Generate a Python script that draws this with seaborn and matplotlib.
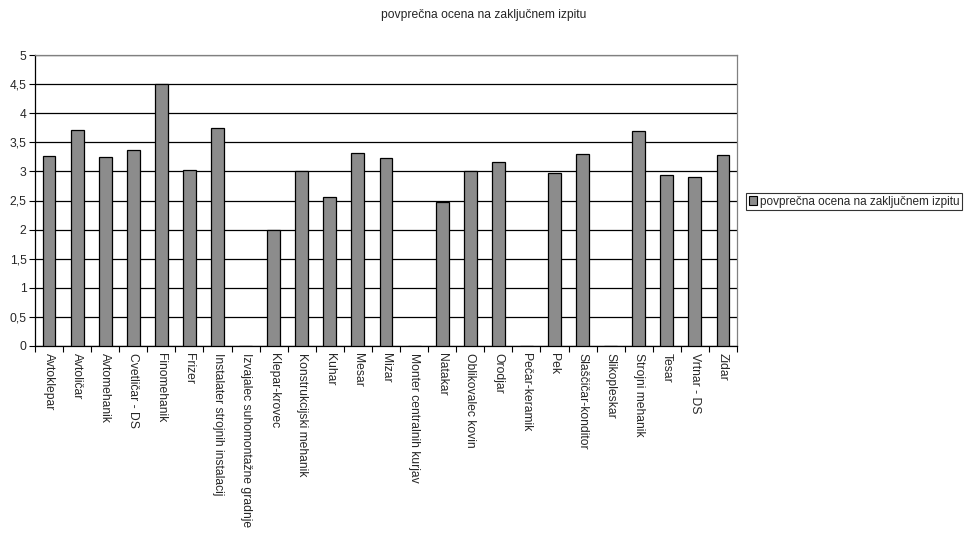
import matplotlib
matplotlib.use("Agg")
import matplotlib.pyplot as plt
import seaborn as sns
import pandas as pd
import numpy as np

poklici = [
    "Avtoklepar", "Avtoličar", "Avtomehanik", "Cvetličar - DS", "Finomehanik",
    "Frizer", "Instalater strojnih instalacij", "Izvajalec suhomontažne gradnje",
    "Klepar-krovec", "Konstrukcijski mehanik", "Kuhar", "Mesar", "Mizar",
    "Monter centralnih kurjav", "Natakar", "Oblikovalec kovin", "Orodjar",
    "Pečar-keramik", "Pek", "Slaščičar-konditor", "Slikopleskar",
    "Strojni mehanik", "Tesar", "Vrtnar - DS", "Zidar",
]
ocene = [
    3.26, 3.71, 3.25, 3.37, 4.5,
    3.02, 3.74, 0.0,
    2.0, 3.0, 2.56, 3.31, 3.23,
    0.0, 2.48, 3.0, 3.16,
    0.0, 2.97, 3.30, 0.0,
    3.70, 2.93, 2.90, 3.28,
]
serija = "povprečna ocena na zaključnem izpitu"
y_ticks = [0, 0.5, 1, 1.5, 2, 2.5, 3, 3.5, 4, 4.5, 5]
y_tick_labels = ["0", "0,5", "1", "1,5", "2", "2,5", "3", "3,5", "4", "4,5", "5"]

FS = 8.7

sns.set_style("white")
plt.rcParams["font.family"] = ["Liberation Sans", "DejaVu Sans"]

df = pd.DataFrame({"poklic": poklici, "ocena": ocene})

fig = plt.figure(figsize=(9.67, 5.33), dpi=100)
ax = fig.add_axes([35 / 967, 1 - 346 / 533, (737 - 35) / 967, (346 - 55) / 533])

sns.barplot(data=df, x="poklic", y="ocena", color="#8c8c8c", saturation=1,
            width=0.46, edgecolor="black", linewidth=0.9, ax=ax, zorder=3)

ax.set_ylim(0, 5)
ax.set_xlim(-0.5, len(poklici) - 0.5)
ax.set_yticks(y_ticks)
ax.set_yticklabels(y_tick_labels, fontsize=FS)
ax.yaxis.grid(True, color="black", linewidth=0.9, zorder=0)
ax.set_axisbelow(True)

ax.set_xticks(range(len(poklici)))
ax.set_xticklabels(poklici, rotation=270, fontsize=FS, va="top", ha="center")
ax.tick_params(axis="x", length=0, pad=5)
ax.set_xticks(np.arange(len(poklici) + 1) - 0.5, minor=True)
ax.tick_params(axis="x", which="minor", length=4, width=0.8, color="black", direction="out", bottom=True)
ax.tick_params(axis="y", length=4, width=0.8, color="black", direction="out", left=True, pad=2)
ax.set_xlabel("")
ax.set_ylabel("")

for side in ["left", "bottom"]:
    ax.spines[side].set_color("black")
    ax.spines[side].set_linewidth(0.9)
for side in ["top", "right"]:
    ax.spines[side].set_visible(True)
    ax.spines[side].set_color("#808080")
    ax.spines[side].set_linewidth(0.9)

fig.text(484 / 967, 1 - 15 / 533, serija, ha="center", va="center", fontsize=FS)

handle = plt.Rectangle((0, 0), 1, 1, facecolor="#8c8c8c", edgecolor="black", linewidth=0.8)
leg = fig.legend([handle], [serija], loc="center left",
                 bbox_to_anchor=(746 / 967, 1 - 201.5 / 533),
                 fontsize=8.5, frameon=True, fancybox=False, shadow=False,
                 handlelength=0.7, handleheight=0.7, handletextpad=0.2,
                 borderpad=0.25, borderaxespad=0)
leg.get_frame().set_edgecolor("black")
leg.get_frame().set_linewidth(0.8)

fig.savefig("out.png", dpi=100)
